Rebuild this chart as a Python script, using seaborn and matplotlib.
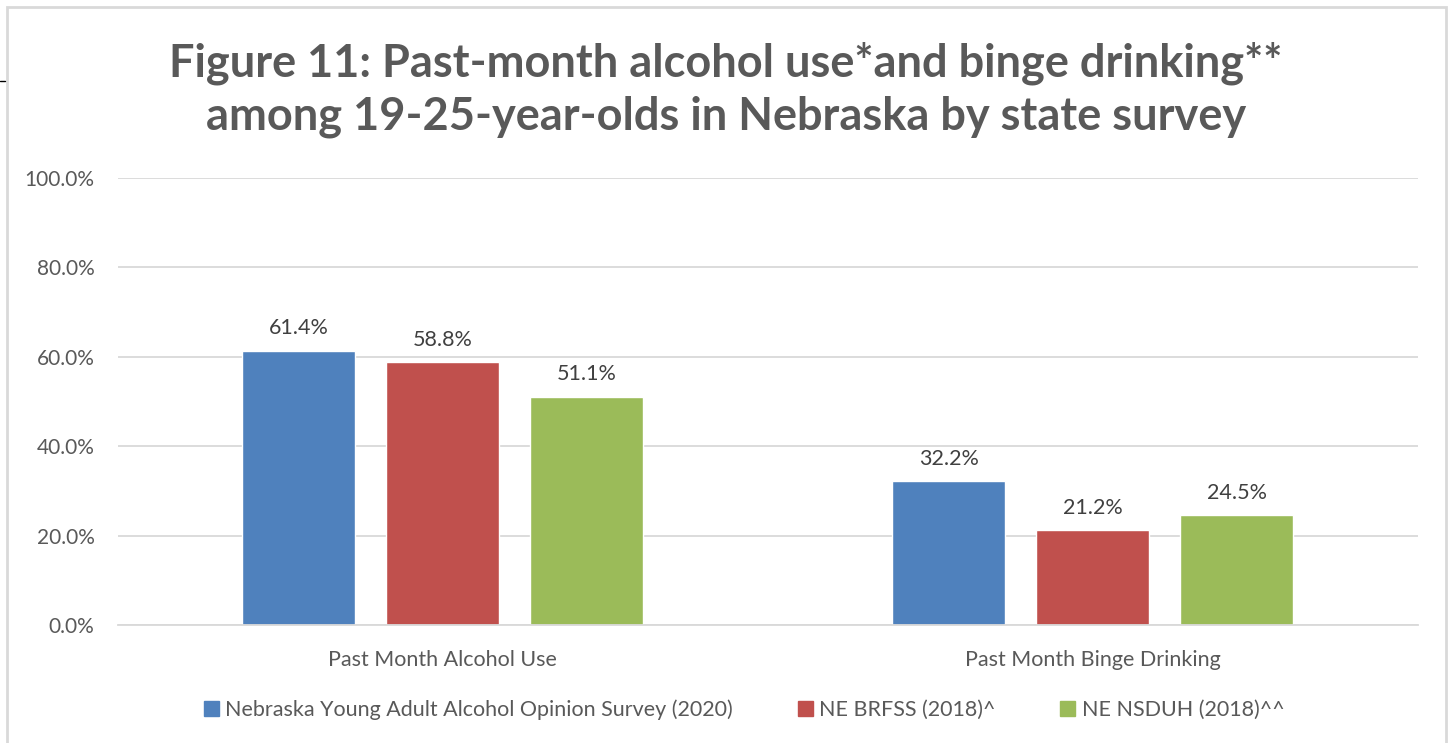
import numpy as np
import pandas as pd
import matplotlib
matplotlib.use("Agg")
import matplotlib.pyplot as plt
import seaborn as sns
from matplotlib.lines import Line2D
from matplotlib.patches import Rectangle

categories = ["Past Month Alcohol Use", "Past Month Binge Drinking"]
surveys = ["Nebraska Young Adult Alcohol Opinion Survey (2020)",
           "NE BRFSS (2018)^", "NE NSDUH (2018)^^"]
survey_vals = [61.4, 32.2]
brfss_vals = [58.8, 21.2]
nsduh_vals = [51.1, 24.5]
colors = ["#4F81BD", "#C0504D", "#9BBB59"]

df = pd.DataFrame({
    "Measure": categories * 3,
    "Survey": [surveys[0]] * 2 + [surveys[1]] * 2 + [surveys[2]] * 2,
    "Pct": survey_vals + brfss_vals + nsduh_vals,
})

sns.set_style("white")
plt.rcParams["font.family"] = ["Lato", "DejaVu Sans"]
grey = "#595959"

fig = plt.figure(figsize=(14.48, 7.43), dpi=100)
ax = fig.add_axes([0.0815, 0.1588, 0.8975, 0.6016])

sns.barplot(data=df, x="Measure", y="Pct", hue="Survey", palette=colors,
            width=0.665, gap=0.215, ax=ax, saturation=1, legend=False)

for c in ax.containers:
    ax.bar_label(c, labels=[f"{v:.1f}%" for v in c.datavalues], padding=9,
                 fontsize=15.5, color="#404040")

ax.set_ylim(0, 100)
ax.set_yticks(np.arange(0, 101, 20))
ax.set_yticklabels([f"{v:.1f}%" for v in np.arange(0, 101, 20)])
ax.yaxis.grid(True, color="#D9D9D9", linewidth=1.3)
ax.set_axisbelow(True)
for s in ["top", "right", "left"]:
    ax.spines[s].set_visible(False)
ax.spines["bottom"].set_color("#D9D9D9")
ax.spines["bottom"].set_linewidth(1.3)
ax.tick_params(axis="y", length=0, pad=17, labelsize=15, labelcolor=grey)
ax.tick_params(axis="x", length=0, pad=18, labelsize=15.5, labelcolor=grey)
ax.set_xlabel("")
ax.set_ylabel("")

fig.text(0.5015, 0.879, "Figure 11: Past-month alcohol use*and binge drinking**\namong 19-25-year-olds in Nebraska by state survey",
         ha="center", va="center", fontsize=32.5, fontweight="bold", color=grey,
         linespacing=1.3)

handles = [Rectangle((0, 0), 1, 1, color=c) for c in colors]
fig.legend(handles, surveys, loc="center", bbox_to_anchor=(0.514, 0.045), ncol=3,
           frameon=False, fontsize=15.5, labelcolor=grey, handlelength=0.7,
           handleheight=0.7, handletextpad=0.3, columnspacing=3.0)

# chart frame
fig.add_artist(Rectangle((7 / 1448, -0.01), 1439 / 1448, 1 - 7 / 743 + 0.01,
                         transform=fig.transFigure, fill=False,
                         edgecolor="#D9D9D9", linewidth=2))
fig.add_artist(Line2D([0, 5 / 1448], [1 - 81 / 743] * 2, color="black", linewidth=1))

fig.savefig("out.png", dpi=100)
